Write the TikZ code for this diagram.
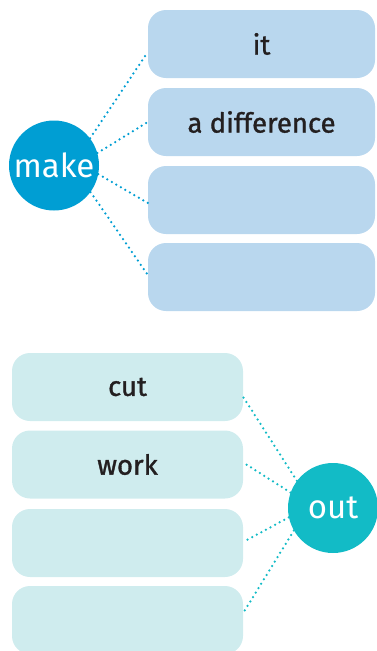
\documentclass[tikz,border=0pt]{standalone}
\usepackage{fontspec}
\setmainfont{Fira Sans}
\newfontfamily\medfont{Fira Sans}[FakeBold=1.2,Ligatures=NoCommon]
\definecolor{topbox}{HTML}{B9D7EE}
\definecolor{topcirc}{HTML}{009ED3}
\definecolor{botbox}{HTML}{CFECEE}
\definecolor{botcirc}{HTML}{12BBC6}
\definecolor{txt}{HTML}{231F20}
\begin{document}
\begin{tikzpicture}[x=1pt,y=-1pt,
  tbox/.style={rectangle, rounded corners=18pt, fill=topbox, minimum width=227pt, minimum height=68pt, inner sep=0pt, font=\medfont\fontsize{27.5}{30}\selectfont, text=txt},
  bbox/.style={rectangle, rounded corners=18pt, fill=botbox, minimum width=231pt, minimum height=68pt, inner sep=0pt, font=\medfont\fontsize{27.5}{30}\selectfont, text=txt},
  circ/.style={circle, minimum size=90pt, inner sep=0pt, text=white, font=\fontsize{33}{36}\selectfont},
  dotline/.style={line width=2.5pt, line cap=round, dash pattern=on 0pt off 5.2pt}]
\useasboundingbox (0,0) rectangle (376,651);
% top group
\node[tbox] (t1) at (261.5,44) {it};
\node[tbox] (t2) at (261.5,122) {a difference};
\node[tbox] (t3) at (261.5,200) {};
\node[tbox] (t4) at (261.5,277) {};
\node[circ, fill=topcirc] (make) at (54,165.5) {make};
\draw[dotline, topcirc] (make.37) -- ([yshift=-8pt]t1.west);
\draw[dotline, topcirc] (make.16) -- (t2.west);
\draw[dotline, topcirc] (make.-11) -- ([yshift=-3pt]t3.west);
\draw[dotline, topcirc] (make.-36) -- ([yshift=2pt]t4.west);
% bottom group
\node[bbox] (b1) at (127.5,387) {cut};
\node[bbox] (b2) at (127.5,464.5) {work};
\node[bbox] (b3) at (127.5,543) {};
\node[bbox] (b4) at (127.5,620) {};
\node[circ, fill=botcirc] (out) at (333,508) {out};
\draw[dotline, botcirc] (out.143) -- ([yshift=-10pt]b1.east);
\draw[dotline, botcirc] (out.160) -- ([yshift=2pt]b2.east);
\draw[dotline, botcirc] (out.192) -- ([yshift=1pt]b3.east);
\draw[dotline, botcirc] (out.210) -- ([yshift=7pt]b4.east);
\end{tikzpicture}
\end{document}
